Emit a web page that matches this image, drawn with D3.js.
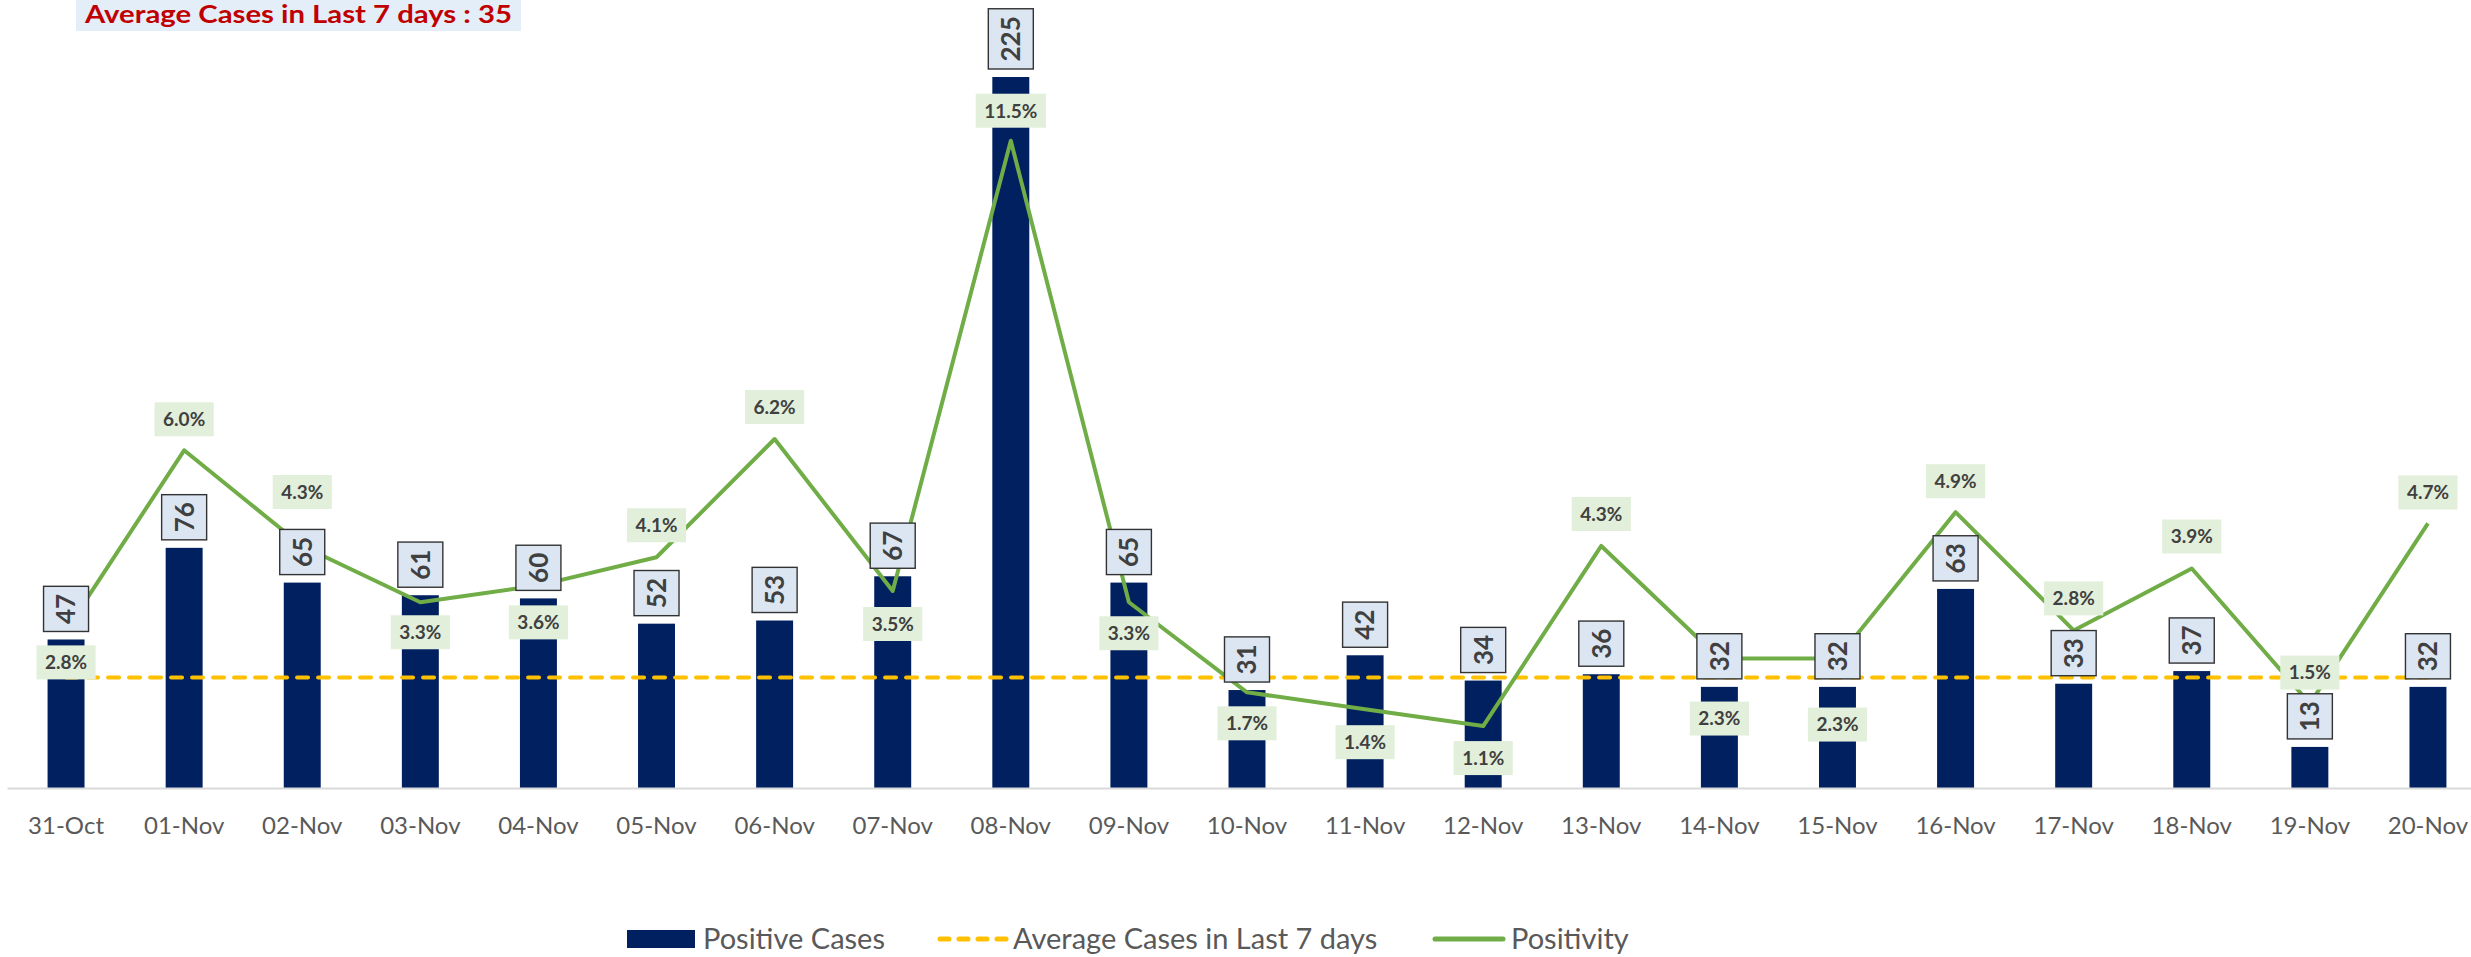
<!DOCTYPE html>
<html>
<head>
<meta charset="utf-8">
<script src="https://cdn.jsdelivr.net/npm/d3@7/dist/d3.min.js"></script>
<style>
  body { margin: 0; background: #fff; }
  svg text { font-family: Lato, "Open Sans", sans-serif; }
</style>
</head>
<body>
<div id="plot"></div>
<script>
const dates = ['31-Oct', '01-Nov', '02-Nov', '03-Nov', '04-Nov', '05-Nov', '06-Nov', '07-Nov',
  '08-Nov', '09-Nov', '10-Nov', '11-Nov', '12-Nov', '13-Nov', '14-Nov', '15-Nov', '16-Nov',
  '17-Nov', '18-Nov', '19-Nov', '20-Nov'];
const positiveCases = [47, 76, 65, 61, 60, 52, 53, 67, 225, 65, 31, 42, 34, 36, 32, 32, 63, 33, 37, 13, 32];
const positivity = [2.8, 6.0, 4.3, 3.3, 3.6, 4.1, 6.2, 3.5, 11.5, 3.3, 1.7, 1.4, 1.1, 4.3, 2.3, 2.3, 4.9, 2.8, 3.9, 1.5, 4.7];
const avgLast7 = 35;
const seriesNames = ['Positive Cases', 'Average Cases in Last 7 days', 'Positivity'];

// where each positivity label sits relative to its point (px, + = below)
const pctLabelDy = [32, -31, -54, 30, 37, -32, -32, 33, -30, 31, 31, 33, 32, -32, 60, 66, -31, -32, -32, -31, -31];

const width = 2471;
const height = 957;
const navy = '#002060';
const yellow = '#ffc000';
const green = '#70ad47';

const svg = d3.select('#plot').append('svg')
  .attr('width', width)
  .attr('height', height);

const x = d3.scaleBand()
  .domain(dates)
  .range([7, 2487])
  .paddingInner(0.687)
  .paddingOuter(0.687 / 2);
const cx = d => x(d) + x.bandwidth() / 2;

const yCases = d3.scaleLinear().domain([0, 250]).range([788, -2]);
const yPct = d3.scaleLinear().domain([0, 14]).range([788, 0]);

// bars
svg.append('g').selectAll('rect').data(positiveCases)
  .enter().append('rect')
    .attr('x', (d, i) => x(dates[i]))
    .attr('y', d => yCases(d))
    .attr('width', x.bandwidth())
    .attr('height', d => yCases(0) - yCases(d))
    .attr('fill', navy);

// x axis
const xAxis = svg.append('g')
  .attr('transform', `translate(0, ${yCases(0)})`)
  .call(d3.axisBottom(x).tickSize(0).tickSizeOuter(0).tickPadding(29));
xAxis.select('.domain')
  .attr('stroke', '#d9d9d9')
  .attr('stroke-width', 2);
xAxis.selectAll('text')
  .attr('font-size', 24)
  .attr('fill', '#595959')
  .style('font-family', 'Lato, sans-serif');

// average line
svg.append('line')
  .attr('x1', cx(dates[0]))
  .attr('x2', cx(dates[dates.length - 1]))
  .attr('y1', yCases(avgLast7))
  .attr('y2', yCases(avgLast7))
  .attr('stroke', yellow)
  .attr('stroke-width', 4)
  .attr('stroke-linecap', 'round')
  .attr('stroke-dasharray', '11,10');

// positivity line
const line = d3.line()
  .x((d, i) => cx(dates[i]))
  .y(d => yPct(d));
svg.append('path')
  .datum(positivity)
  .attr('d', line)
  .attr('fill', 'none')
  .attr('stroke', green)
  .attr('stroke-width', 4)
  .attr('stroke-linejoin', 'round');

// positivity labels
const pctG = svg.append('g').selectAll('g').data(positivity)
  .enter().append('g')
    .attr('transform', (d, i) => `translate(${cx(dates[i])}, ${yPct(d) + pctLabelDy[i]})`);
pctG.append('rect').attr('fill', '#e2efda');
pctG.append('text')
  .attr('text-anchor', 'middle')
  .attr('dy', '0.36em')
  .attr('font-size', 19)
  .attr('font-weight', 'bold')
  .attr('fill', '#404040')
  .text(d => d.toFixed(1) + '%');
pctG.each(function() {
  const g = d3.select(this);
  const len = g.select('text').node().getComputedTextLength();
  g.select('rect')
    .attr('x', -(len + 17) / 2)
    .attr('y', -17)
    .attr('width', len + 17)
    .attr('height', 34);
});

// case value labels (rotated, boxed)
const valG = svg.append('g').selectAll('g').data(positiveCases)
  .enter().append('g');
valG.append('rect')
  .attr('fill', '#dce6f2')
  .attr('stroke', '#333')
  .attr('stroke-width', 1.4);
valG.append('text')
  .attr('text-anchor', 'middle')
  .attr('dy', '0.36em')
  .attr('transform', 'rotate(-90)')
  .attr('font-size', 26)
  .attr('font-weight', 'bold')
  .attr('fill', '#404040')
  .text(d => d);
valG.each(function(d, i) {
  const g = d3.select(this);
  const len = g.select('text').node().getComputedTextLength();
  const boxH = len + 15;
  const bottom = yCases(d) - 8;
  g.attr('transform', `translate(${cx(dates[i])}, ${bottom - boxH / 2})`);
  g.select('rect')
    .attr('x', -22.5)
    .attr('y', -boxH / 2)
    .attr('width', 45)
    .attr('height', boxH);
});

// title
svg.append('rect')
  .attr('x', 76).attr('y', 0)
  .attr('width', 445).attr('height', 31)
  .attr('fill', '#e4eef8');
svg.append('text')
  .attr('x', 85).attr('y', 23)
  .attr('font-size', 24)
  .attr('font-weight', 'bold')
  .attr('fill', '#c00000')
  .attr('textLength', 427)
  .attr('lengthAdjust', 'spacingAndGlyphs')
  .text(`Average Cases in Last 7 days : ${avgLast7}`);

// legend
const legend = svg.append('g').attr('transform', 'translate(0, 939)');
legend.append('rect')
  .attr('x', 627).attr('y', -9)
  .attr('width', 68).attr('height', 18)
  .attr('fill', navy);
legend.append('line')
  .attr('x1', 940).attr('x2', 1006)
  .attr('stroke', yellow)
  .attr('stroke-width', 5)
  .attr('stroke-linecap', 'round')
  .attr('stroke-dasharray', '9,10');
legend.append('line')
  .attr('x1', 1435).attr('x2', 1503)
  .attr('stroke', green)
  .attr('stroke-width', 5)
  .attr('stroke-linecap', 'round');
const legendX = [703, 1013, 1511];
legend.selectAll('text.leg').data(seriesNames)
  .enter().append('text')
    .attr('class', 'leg')
    .attr('x', (d, i) => legendX[i])
    .attr('y', 10)
    .attr('font-size', 29)
    .attr('fill', '#595959')
    .text(d => d);
</script>
</body>
</html>
